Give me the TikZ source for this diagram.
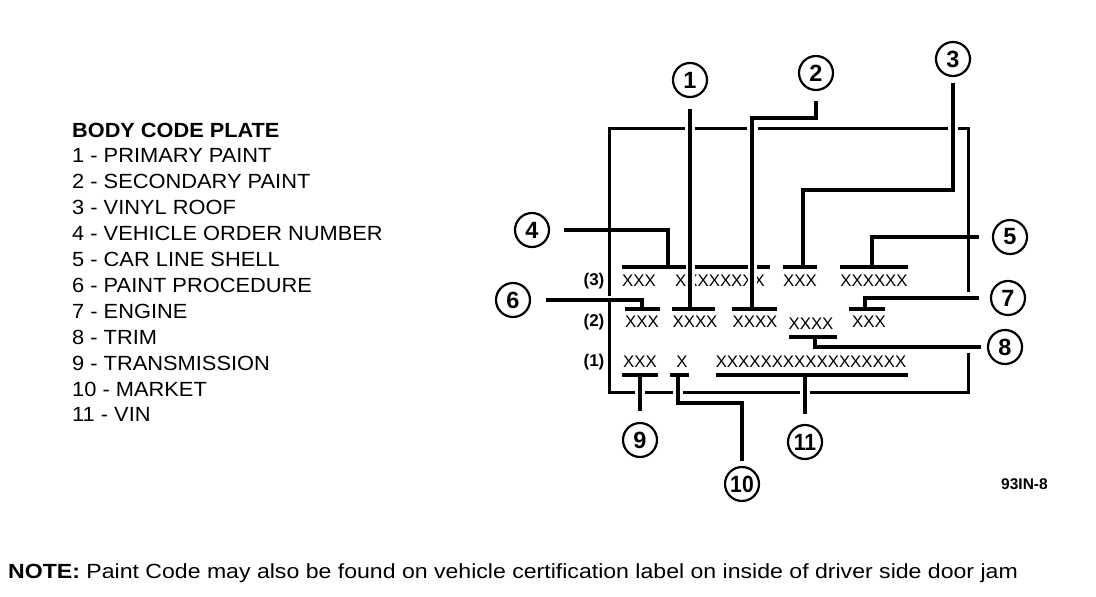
\documentclass[tikz,border=0pt]{standalone}
\usepackage{fontspec}
\setmainfont{Liberation Sans}
\begin{document}
\begin{tikzpicture}[x=1pt,y=-1pt,
  lead/.style={line width=3.3pt},
  bar/.style={line width=3.2pt},
  halo/.style={draw=white,line width=9pt},
  num/.style={circle,draw,line width=2.2pt,minimum size=34pt,inner sep=0pt,font=\fontsize{23.5}{23.5}\selectfont\bfseries},
  xx/.style={inner sep=0pt,font=\fontsize{16.8}{16.8}\selectfont},
  rowlab/.style={inner sep=0pt,font=\fontsize{17}{17}\selectfont\bfseries},
  legend/.style={anchor=base west,inner sep=0pt,font=\fontsize{20.5}{20.5}\selectfont}]
\useasboundingbox (0,0) rectangle (1096,597);

% legend
\node[legend,font=\fontsize{20.5}{20.5}\selectfont\bfseries] (l0) at (72,137) {\scalebox{1.06}[1]{BODY CODE PLATE}};
\foreach \t [count=\k] in {1 - PRIMARY PAINT,2 - SECONDARY PAINT,3 - VINYL ROOF,4 - VEHICLE ORDER NUMBER,5 - CAR LINE SHELL,6 - PAINT PROCEDURE,7 - ENGINE,8 - TRIM,9 - TRANSMISSION,10 - MARKET,11 - VIN}
  \node[legend] (l\k) at (72,137+25.9*\k) {\scalebox{1.065}[1]{\t}};

% note
\node[anchor=base west,inner sep=0pt,font=\fontsize{20.5}{20.5}\selectfont] (note) at (8,578) {\scalebox{1.126}[1]{\textbf{NOTE:} Paint Code may also be found on vehicle certification label on inside of driver side door jam}};
\node[anchor=west,inner sep=0pt,font=\fontsize{15.5}{15.5}\selectfont\bfseries] (fig) at (1001,484) {93IN-8};

% plate outline
\begin{scope}[line width=3pt,draw=black]
\draw (609,296) -- (609,128) -- (685,128);
\draw (695,128) -- (747,128);
\draw (758,128) -- (948,128);
\draw (958,128) -- (968,128) -- (968,292);
\draw (609,300) -- (609,392) -- (635,392);
\draw (645,392) -- (673,392);
\draw (683,392) -- (800,392);
\draw (810,392) -- (968,392) -- (968,353);
\end{scope}

% row 3
\node[xx] (r3a) at (639,281) {XXX};
\node[xx] (r3b) at (720,281) {XXXXXXXX};
\node[xx] (r3c) at (800,281) {XXX};
\node[xx] (r3d) at (874,281) {XXXXXX};
\coordinate (j4) at (668,267);
\coordinate (j3) at (803,267);
\coordinate (j5) at (872,267);
\draw[bar] (622,267) -- (770,267);
\draw[bar] (783,267) -- (817,267);
\draw[bar] (840,267) -- (908,267);

% halos where leaders 1 and 2 cross row 3
\draw[halo] (690,120) -- (690,300);
\draw[halo] (752,124) -- (752,300);

% row 2
\node[xx] (r2a) at (642,322) {XXX};
\node[xx] (r2b) at (695,322) {XXXX};
\node[xx] (r2c) at (755,322) {XXXX};
\node[xx] (r2d) at (811,324) {XXXX};
\node[xx] (r2e) at (869,322) {XXX};
\coordinate (j6) at (642,309);
\coordinate (j1) at (690,309);
\coordinate (j2) at (752,309);
\coordinate (j7) at (865,309);
\coordinate (j8) at (815,337);

% row 1
\node[xx] (r1a) at (640,362) {XXX};
\node[xx] (r1b) at (682,362) {X};
\node[xx] (r1c) at (811,362) {XXXXXXXXXXXXXXXXX};
\coordinate (j9) at (640,375);
\coordinate (j10) at (678,375);
\coordinate (j11) at (805,375);
\coordinate (k10) at (742,403);

% row labels
\node[rowlab] (p3) at (594,281) {(3)};
\node[rowlab] (p2) at (594,322) {(2)};
\node[rowlab] (p1) at (594,362) {(1)};

% circles
\node[num] (c1) at (690,80) {1};
\node[num] (c2) at (816,73) {2};
\node[num] (c3) at (953,59) {3};
\node[num] (c4) at (532,230) {4};
\node[num] (c5) at (1010,237) {5};
\node[num] (c6) at (513,300) {6};
\node[num] (c7) at (1008,298) {7};
\node[num] (c8) at (1005,347) {8};
\node[num] (c9) at (640,440) {9};
\node[num] (c10) at (742,484) {\scalebox{0.9}[1]{10}};
\node[num] (c11) at (805,442) {\scalebox{0.9}[1]{11}};
\coordinate (k2) at (752,118);
\coordinate (k3) at (803,190);

% leaders
\draw[lead,shorten <=11pt] (c1.south) -- (j1);
\draw[lead,shorten <=10pt] (c2.south) |- (k2) -- (j2);
\draw[lead,shorten <=6pt] (c3.south) |- (k3) -- (j3);
\draw[lead,shorten <=14pt] (c4.east) -| (j4);
\draw[lead,shorten <=13pt] (c5.west) -| (j5);
\draw[lead,shorten <=15pt] (c6.east) -| (j6);
\draw[lead,shorten <=11pt] (c7.west) -| (j7);
\draw[lead,shorten <=6pt] (c8.west) -| (j8);
\draw[lead,shorten >=11pt] (j9) -- (c9.north);
\draw[lead,shorten >=5pt] (j10) |- (k10) -- (c10.north);
\draw[lead,shorten >=10pt] (j11) -- (c11.north);

% row 2 and row 1 bars
\draw[bar] (625,309) -- (660,309);
\draw[bar] (672,309) -- (715,309);
\draw[bar] (732,309) -- (777,309);
\draw[bar] (849,309) -- (885,309);
\draw[bar] (789,337) -- (837,337);
\draw[bar] (622,375) -- (658,375);
\draw[bar] (670,375) -- (689,375);
\draw[bar] (716,375) -- (908,375);
\end{tikzpicture}
\end{document}
